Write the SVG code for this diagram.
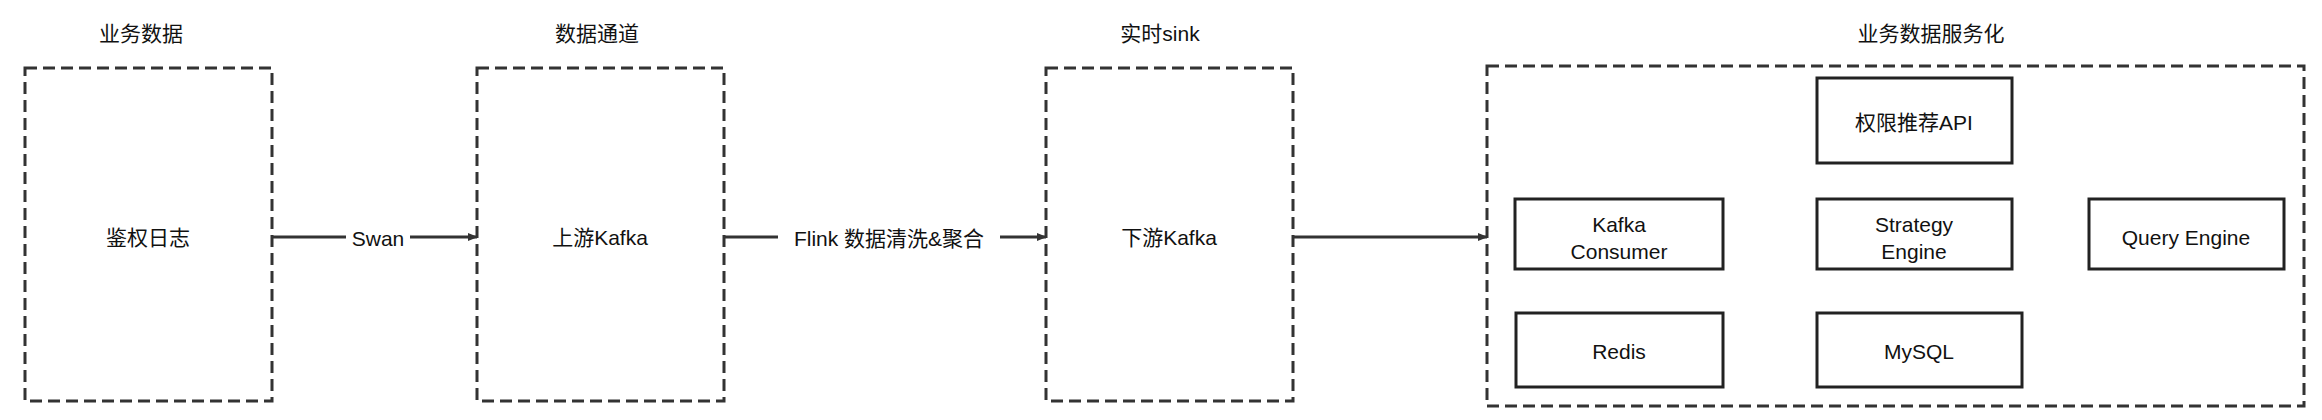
<svg xmlns="http://www.w3.org/2000/svg" width="2322" height="420" viewBox="0 0 2322 420">
<style>
.d{fill:#fff;stroke:#333;stroke-width:3;stroke-dasharray:12 6}
.b{fill:#fff;stroke:#222;stroke-width:3}
text{font-family:"Liberation Sans","Noto Sans CJK SC",sans-serif;font-size:21px;fill:#111;text-anchor:middle;dominant-baseline:central}
.c{stroke:#333;stroke-width:3;fill:none;marker-end:url(#a)}
</style>
<defs><marker id="a" markerWidth="10" markerHeight="8" refX="9" refY="4" orient="auto" markerUnits="userSpaceOnUse" viewBox="0 0 10 8"><path d="M0,0L10,4L0,8z" fill="#333"/></marker>
</defs>
<rect width="2322" height="420" fill="#fff"/>
<g id="n1"><text x="141" y="33">业务数据</text><rect class="d" x="25" y="68" width="247" height="333"/><text x="148" y="237">鉴权日志</text></g>
<g id="n2"><text x="597" y="33">数据通道</text><rect class="d" x="477" y="68" width="247" height="333"/><text x="600" y="237">上游Kafka</text></g>
<g id="n3"><text x="1160" y="33">实时sink</text><rect class="d" x="1046" y="68" width="247" height="333"/><text x="1169" y="237">下游Kafka</text></g>
<g id="n4"><text x="1931" y="33">业务数据服务化</text><rect class="d" x="1487" y="66" width="817" height="340"/></g>
<g id="api"><rect class="b" x="1817" y="78" width="195" height="85"/><text x="1914" y="122">权限推荐API</text></g>
<g id="kc"><rect class="b" x="1515" y="199" width="208" height="70"/><text x="1619" y="224">Kafka</text><text x="1619" y="251">Consumer</text></g>
<g id="se"><rect class="b" x="1817" y="199" width="195" height="70"/><text x="1914" y="224">Strategy</text><text x="1914" y="251">Engine</text></g>
<g id="qe"><rect class="b" x="2089" y="199" width="195" height="70"/><text x="2186" y="237">Query Engine</text></g>
<g id="rd"><rect class="b" x="1516" y="313" width="207" height="74"/><text x="1619" y="351">Redis</text></g>
<g id="my"><rect class="b" x="1817" y="313" width="205" height="74"/><text x="1919" y="351">MySQL</text></g>
<g id="connectors">
<path class="c" d="M272,237H477"/>
<rect x="346" y="224" width="64" height="26" fill="#fff"/><text x="378" y="238">Swan</text>
<path class="c" d="M724,237H1046"/>
<rect x="778" y="224" width="222" height="26" fill="#fff"/><text x="889" y="238">Flink 数据清洗&amp;聚合</text>
<path class="c" d="M1293,237H1487"/>
</g>
</svg>
